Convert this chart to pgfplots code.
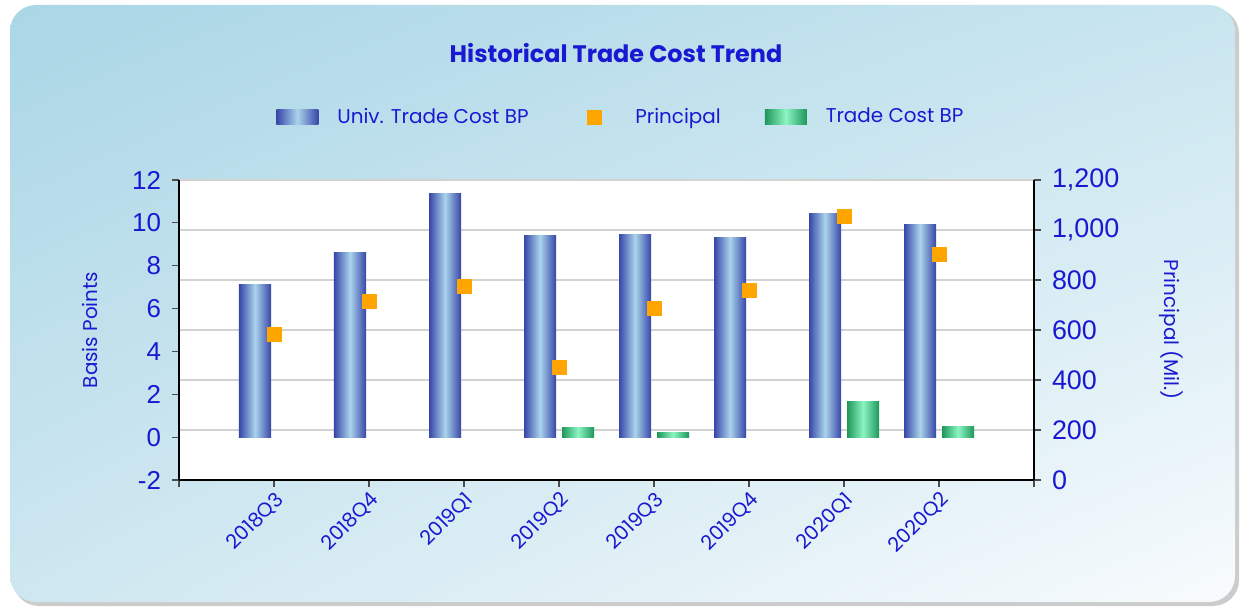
\documentclass[border=0pt]{standalone}
\usepackage{fontspec}
\setmainfont{Poppins}
\newfontfamily\arialf{Liberation Sans}
\usepackage{pgfplots}
\pgfplotsset{compat=1.18}
\usetikzlibrary{shadings}
\definecolor{txtblue}{RGB}{25,25,210}
\definecolor{bardark}{RGB}{55,70,168}
\definecolor{barlight}{RGB}{170,212,236}
\definecolor{grdark}{RGB}{30,150,90}
\definecolor{grlight}{RGB}{140,245,195}
\definecolor{markorange}{RGB}{255,165,0}
\definecolor{bgul}{RGB}{170,214,230}
\definecolor{bgur}{RGB}{200,229,239}
\definecolor{bgll}{RGB}{206,231,240}
\definecolor{bglr}{RGB}{248,251,253}

\pgfplotsset{
  basestyle/.style={
    at={(89.5bp,64bp)}, anchor=south west, scale only axis,
    width=427.5bp, height=150bp,
    xmin=0, xmax=9,
    tick align=outside,
    major tick length=3.5bp,
    major tick style={gray!60!black, line width=0.6bp},
    x axis line style={-, line width=1.2bp, black},
    y axis line style={-, line width=1.2bp, black},
    /pgf/number format/assume math mode=true,
    /pgf/number format/1000 sep={,},
    yticklabel style={font=\arialf\fontsize{13}{13}\selectfont, text=txtblue},
    xticklabel style={font=\fontsize{10}{10}\selectfont, text=txtblue, rotate=45, anchor=north east, inner sep=1bp},
  },
  univbar/.style={ybar, bar width=16bp, bar shift=-9.5bp, draw=none, forget plot,
    left color=bardark, right color=bardark, middle color=barlight},
  tradebar/.style={ybar, bar width=16bp, bar shift=9.5bp, draw=none, forget plot,
    left color=grdark, right color=grdark, middle color=grlight},
  barlegend/.style={legend image code/.code={\path[##1, draw=none] (0bp,-3.75bp) rectangle (21bp,3.75bp);}},
  marklegend/.style={legend image code/.code={\path (-10.5bp,0bp) (11bp,0bp); \path[##1] plot coordinates {(0bp,0bp)};}},
}

\begin{document}
\begin{tikzpicture}
\path[use as bounding box] (0bp,0bp) rectangle (620.5bp,304bp);
% panel background
\fill[black!20, rounded corners=13bp] (6.5bp,1bp) rectangle (619.5bp,300bp);
\shade[rounded corners=13bp,
  upper left=bgul, upper right=bgur, lower left=bgll, lower right=bglr]
  (5bp,3bp) rectangle (617.5bp,301.5bp);

\node[font=\bfseries\fontsize{12}{14}\selectfont, text=txtblue] at (308bp,277.5bp) {Historical Trade Cost Trend};

% Axis A: background, grid, right axis, x axis
\begin{axis}[basestyle,
  axis background/.style={fill=white},
  ymin=0, ymax=1200, ytick={0,200,...,1200},
  axis y line*=right, axis x line*=bottom,
  ymajorgrids, grid style={gray!35, line width=0.8bp},
  xtick={0,...,9},
  xticklabels={,2018Q3,2018Q4,2019Q1,2019Q2,2019Q3,2019Q4,2020Q1,2020Q2,},
  yticklabel style={font=\arialf\fontsize{13.5}{13.5}\selectfont, xshift=2bp},
  ylabel={Principal (Mil.)},
  ylabel style={at={(axis description cs:1.161,0.5)}, anchor=center, rotate=180, font=\fontsize{10}{12}\selectfont, text=txtblue},
]
\addplot[draw=none, forget plot] coordinates {(0,0)};
\end{axis}

% Axis B: bars, left axis
\begin{axis}[basestyle,
  ymin=-2, ymax=12, ytick={-2,0,...,12},
  axis y line*=left, axis x line=none,
  xtick=\empty,
  yticklabel style={xshift=-2bp},
  ylabel={Basis Points},
  ylabel style={at={(axis description cs:-0.104,0.5)}, anchor=center, font=\fontsize{10}{12}\selectfont, text=txtblue},
  legend style={at={(0.518,1.21)}, anchor=center, draw=none, fill=none,
    legend columns=3, font=\fontsize{10}{12}\selectfont, text=txtblue,
    /tikz/every odd column/.append style={column sep=7.5bp},
    /tikz/every even column/.append style={column sep=20bp}},
]
% Univ. Trade Cost BP (one plot per bar so each bar has its own shading)
\addplot[univbar] coordinates {(1,7.1)};
\addplot[univbar] coordinates {(2,8.6)};
\addplot[univbar] coordinates {(3,11.35)};
\addplot[univbar] coordinates {(4,9.4)};
\addplot[univbar] coordinates {(5,9.45)};
\addplot[univbar] coordinates {(6,9.3)};
\addplot[univbar] coordinates {(7,10.45)};
\addplot[univbar] coordinates {(8,9.93)};
% Trade Cost BP
\addplot[tradebar] coordinates {(4,0.45)};
\addplot[tradebar] coordinates {(5,0.2)};
\addplot[tradebar] coordinates {(7,1.65)};
\addplot[tradebar] coordinates {(8,0.5)};
\addlegendimage{left color=bardark, right color=bardark, middle color=barlight, barlegend}
\addlegendentry{Univ. Trade Cost BP}
\addlegendimage{only marks, mark=square*, mark size=3.5bp, color=markorange, marklegend}
\addlegendentry{Principal}
\addlegendimage{left color=grdark, right color=grdark, middle color=grlight, barlegend}
\addlegendentry{Trade Cost BP}
\end{axis}

% Axis C: principal markers
\begin{axis}[basestyle, hide axis, ymin=0, ymax=1200]
\addplot[only marks, mark=square*, mark size=3.5bp, color=markorange]
  coordinates {(1,584) (2,716) (3,776) (4,449) (5,687) (6,759) (7,1053) (8,903)};
\end{axis}
\end{tikzpicture}
\end{document}
